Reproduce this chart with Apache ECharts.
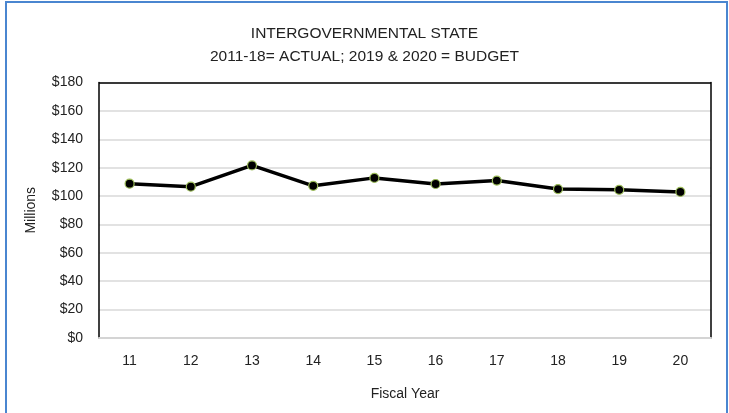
<!DOCTYPE html>
<html>
<head>
<meta charset="utf-8">
<script src="https://cdn.jsdelivr.net/npm/echarts@6/dist/echarts.min.js"></script>
<style>
html,body{margin:0;padding:0;background:#fff;}
#frame{position:absolute;left:5px;top:1px;width:723px;height:420px;border:2px solid #4a86d0;box-sizing:border-box;}
#chart{position:absolute;left:0;top:0;width:729px;height:413px;}
</style>
</head>
<body>
<div id="frame"></div>
<div id="chart"></div>
<script>
var titleLines = ['INTERGOVERNMENTAL STATE', '2011-18= ACTUAL; 2019 & 2020 = BUDGET'];
var categories = ['11', '12', '13', '14', '15', '16', '17', '18', '19', '20'];
var values = [108.7, 106.6, 121.6, 107.2, 112.8, 108.5, 110.9, 104.9, 104.4, 102.9];
var yMin = 0, yMax = 180, yStep = 20;
var yAxisName = 'Millions';
var xAxisName = 'Fiscal Year';

var FONT = '"Liberation Sans", Arial, sans-serif';
var chart = echarts.init(document.getElementById('chart'), null, {renderer: 'canvas'});
chart.setOption({
  animation: false,
  backgroundColor: 'transparent',
  title: {
    text: titleLines.join('\n'),
    left: 'center',
    top: 17,
    textStyle: {fontFamily: FONT, fontSize: 15.5, fontWeight: 'normal', color: '#222', lineHeight: 23}
  },
  grid: {left: 99, right: 18, top: 82.5, bottom: 75, containLabel: false, show: false},
  xAxis: {
    type: 'category',
    data: categories,
    boundaryGap: true,
    name: xAxisName,
    nameLocation: 'middle',
    nameGap: 49,
    nameTextStyle: {fontFamily: FONT, fontSize: 14, color: '#222'},
    axisLine: {show: true, lineStyle: {color: '#d4d4d4', width: 2}},
    axisTick: {show: false},
    axisLabel: {fontFamily: FONT, fontSize: 14, color: '#222', margin: 16}
  },
  yAxis: [{
    type: 'value',
    min: yMin, max: yMax, interval: yStep,
    name: yAxisName,
    nameLocation: 'middle',
    nameGap: 61,
    nameTextStyle: {fontFamily: FONT, fontSize: 14, color: '#222'},
    axisLine: {show: true, lineStyle: {color: '#000', width: 1.5}},
    axisTick: {show: false},
    splitLine: {show: true, lineStyle: {color: '#d9d9d9', width: 1.5}},
    axisLabel: {fontFamily: FONT, fontSize: 14, color: '#222', margin: 16, formatter: function(v){return '$' + v;}}
  }, {
    type: 'value',
    min: yMin, max: yMax, interval: yStep,
    position: 'right',
    axisLine: {show: true, lineStyle: {color: '#000', width: 1.5}},
    axisTick: {show: false},
    axisLabel: {show: false},
    splitLine: {show: false}
  }],
  series: [{
    type: 'line',
    data: values,
    symbol: 'circle',
    symbolSize: 9,
    lineStyle: {color: '#000', width: 3.5},
    itemStyle: {color: '#000', borderColor: '#9bbb59', borderWidth: 1.2},
    markLine: {
      silent: true, symbol: 'none', label: {show: false},
      lineStyle: {color: '#000', width: 1.5, type: 'solid'},
      data: [{yAxis: yMax}]
    }
  }]
});
</script>
</body>
</html>
